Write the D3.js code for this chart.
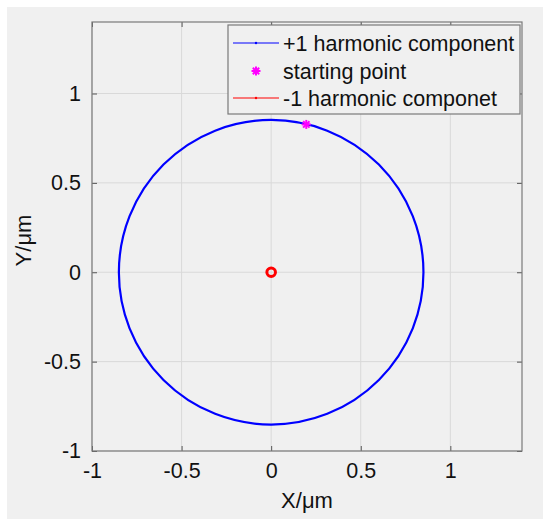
<!DOCTYPE html>
<html>
<head>
<meta charset="utf-8">
<script src="https://cdn.jsdelivr.net/npm/d3@7"></script>
<style>
  html, body { margin: 0; padding: 0; background: #ffffff; }
  svg { display: block; }
  text { font-family: "Liberation Sans", Arial, sans-serif; }
</style>
</head>
<body>
<svg id="chart" width="550" height="525"></svg>
<script>
// ---- data ----
const xDomain = [-1, 1.4];
const yDomain = [-1, 1.4];
const xTicks = [-1, -0.5, 0, 0.5, 1];
const yTicks = [-1, -0.5, 0, 0.5, 1];
const xTickLabels = ["-1", "-0.5", "0", "0.5", "1"];
const yTickLabels = ["-1", "-0.5", "0", "0.5", "1"];
// +1 harmonic component: circle centre and radius (µm)
const plusCenter = [0, 0];
const plusRadius = [0.85];
// -1 harmonic component: tiny circle at origin
const minusCenter = [0, 0];
const minusRadius = [0.024];
// starting point
const startPoint = [0.196, 0.827];
const legendLabels = ["+1 harmonic component", "starting point", "-1 harmonic componet"];
const xLabel = "X/μm";
const yLabel = "Y/μm";

// ---- layout ----
const svg = d3.select("#chart");
const L = 92, R = 522, T = 22, B = 451;

svg.append("rect").attr("x", 7).attr("y", 7).attr("width", 536).attr("height", 512)
  .attr("fill", "#f0f0f0");

const x = d3.scaleLinear().domain(xDomain).range([L, R]);
const y = d3.scaleLinear().domain(yDomain).range([B, T]);

svg.append("rect").attr("x", L).attr("y", T).attr("width", R - L).attr("height", B - T)
  .attr("fill", "#f0f0f0");

// grid
const grid = svg.append("g");
grid.selectAll(".gx").data(xTicks).enter().append("line")
  .attr("x1", d => x(d)).attr("x2", d => x(d)).attr("y1", T).attr("y2", B)
  .attr("stroke", "#d9d9d9").attr("stroke-width", 1);
grid.selectAll(".gy").data(yTicks).enter().append("line")
  .attr("y1", d => y(d)).attr("y2", d => y(d)).attr("x1", L).attr("x2", R)
  .attr("stroke", "#d9d9d9").attr("stroke-width", 1);

// axes (ticks inward)
const tickLen = 5;
const axB = svg.append("g").attr("transform", `translate(0,${B})`)
  .call(d3.axisBottom(x).tickValues(xTicks).tickSize(-tickLen).tickPadding(12)
    .tickFormat((d, i) => xTickLabels[i]));
const axT = svg.append("g").attr("transform", `translate(0,${T})`)
  .call(d3.axisTop(x).tickValues(xTicks).tickSize(-tickLen).tickFormat(""));
const axL = svg.append("g").attr("transform", `translate(${L},0)`)
  .call(d3.axisLeft(y).tickValues(yTicks).tickSize(-tickLen).tickPadding(11)
    .tickFormat((d, i) => yTickLabels[i]));
const axR = svg.append("g").attr("transform", `translate(${R},0)`)
  .call(d3.axisRight(y).tickValues(yTicks).tickSize(-tickLen).tickFormat(""));
[axB, axT, axL, axR].forEach(a => {
  a.select(".domain").remove();
  a.selectAll(".tick line").attr("stroke", "#555");
  a.selectAll(".tick text").attr("fill", "#111").style("font-size", "21.5px")
    .style("font-family", "'Liberation Sans', Arial, sans-serif");
});
axB.selectAll(".tick text").attr("dy", "0.71em");

// box
svg.append("rect").attr("x", L).attr("y", T).attr("width", R - L).attr("height", B - T)
  .attr("fill", "none").attr("stroke", "#7a7a7a").attr("stroke-width", 1.2);

// +1 harmonic circle
svg.append("circle")
  .attr("cx", x(plusCenter[0])).attr("cy", y(plusCenter[1]))
  .attr("r", x(plusRadius[0]) - x(0))
  .attr("fill", "none").attr("stroke", "#0000ff").attr("stroke-width", 2.2);

// -1 harmonic circle
svg.append("circle")
  .attr("cx", x(minusCenter[0])).attr("cy", y(minusCenter[1]))
  .attr("r", x(minusRadius[0]) - x(0))
  .attr("fill", "none").attr("stroke", "#ff0000").attr("stroke-width", 3);

// asterisk marker
function asterisk(g, cx, cy, s) {
  [0, 45, 90, 135].forEach(a => {
    const r = a * Math.PI / 180;
    g.append("line")
      .attr("x1", cx - s * Math.cos(r)).attr("y1", cy - s * Math.sin(r))
      .attr("x2", cx + s * Math.cos(r)).attr("y2", cy + s * Math.sin(r))
      .attr("stroke", "#ff00ff").attr("stroke-width", 2);
  });
}
asterisk(svg.append("g"), x(startPoint[0]), y(startPoint[1]), 4.5);

// axis labels
svg.append("text").attr("x", (L + R) / 2 - 0).attr("y", 508)
  .attr("text-anchor", "middle").style("font-size", "22px").attr("fill", "#111")
  .text(xLabel);
svg.append("text").attr("transform", `translate(31,${(T + B) / 2 + 4}) rotate(-90)`)
  .attr("text-anchor", "middle").style("font-size", "22px").attr("fill", "#111")
  .text(yLabel);

// legend
const lg = svg.append("g");
const lx = 228, ly = 25, lw = 292, lh = 89;
lg.append("rect").attr("x", lx).attr("y", ly).attr("width", lw).attr("height", lh)
  .attr("fill", "#f0f0f0").attr("stroke", "#7a7a7a").attr("stroke-width", 1.2);
const rowY = [43, 71, 98];
const colors = ["#0000ff", "#ff00ff", "#ff0000"];
legendLabels.forEach((lab, i) => {
  const cy = rowY[i];
  if (i === 1) {
    asterisk(lg, 256, cy, 4.5);
  } else {
    lg.append("line").attr("x1", 233).attr("x2", 279).attr("y1", cy).attr("y2", cy)
      .attr("stroke", colors[i]).attr("stroke-width", 1);
    lg.append("circle").attr("cx", 256).attr("cy", cy).attr("r", 1.2).attr("fill", colors[i]);
  }
  lg.append("text").attr("x", 283).attr("y", cy + 7.5)
    .style("font-size", "21.5px").attr("fill", "#111").text(lab);
});
</script>
</body>
</html>
